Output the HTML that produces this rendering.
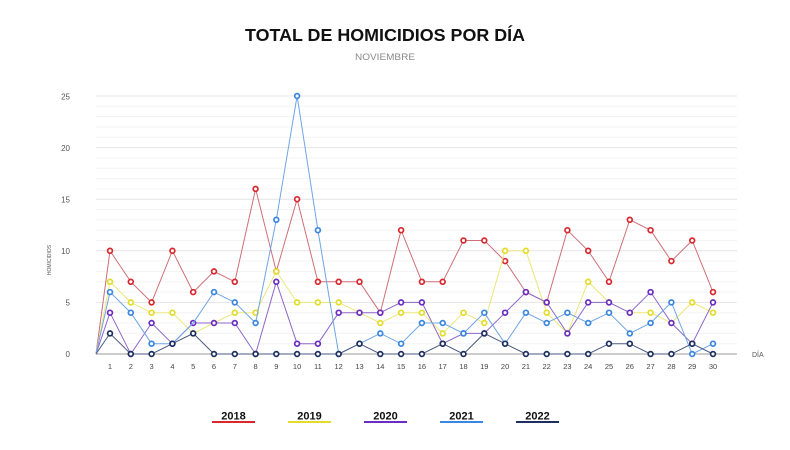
<!DOCTYPE html>
<html><head><meta charset="utf-8"><style>
html,body{margin:0;padding:0;background:#fff;}
svg{display:block;font-family:"Liberation Sans",sans-serif;}
</style></head><body>
<svg width="790" height="450" viewBox="0 0 790 450" xmlns="http://www.w3.org/2000/svg">
<defs>
<marker id="mr" markerUnits="userSpaceOnUse" markerWidth="10" markerHeight="10" refX="5" refY="5" overflow="visible"><circle cx="5" cy="5" r="2.4" fill="#fff" stroke="#d8282e" stroke-width="1.7"/></marker>
<marker id="my" markerUnits="userSpaceOnUse" markerWidth="10" markerHeight="10" refX="5" refY="5" overflow="visible"><circle cx="5" cy="5" r="2.4" fill="#fff" stroke="#e3dc2a" stroke-width="1.7"/></marker>
<marker id="mp" markerUnits="userSpaceOnUse" markerWidth="10" markerHeight="10" refX="5" refY="5" overflow="visible"><circle cx="5" cy="5" r="2.4" fill="#fff" stroke="#6a2dbf" stroke-width="1.7"/></marker>
<marker id="mb" markerUnits="userSpaceOnUse" markerWidth="10" markerHeight="10" refX="5" refY="5" overflow="visible"><circle cx="5" cy="5" r="2.4" fill="#fff" stroke="#3a86e0" stroke-width="1.7"/></marker>
<marker id="mn" markerUnits="userSpaceOnUse" markerWidth="10" markerHeight="10" refX="5" refY="5" overflow="visible"><circle cx="5" cy="5" r="2.4" fill="#fff" stroke="#1d2f5e" stroke-width="1.7"/></marker>
</defs>

<text x="385" y="41" text-anchor="middle" font-size="17.5" font-weight="bold" fill="#111" textLength="280" lengthAdjust="spacingAndGlyphs">TOTAL DE HOMICIDIOS POR DÍA</text>
<text x="385" y="60" text-anchor="middle" font-size="9" fill="#8a8a8a" textLength="60" lengthAdjust="spacingAndGlyphs">NOVIEMBRE</text>

<g stroke="#f3f3f3" stroke-width="1">
<line x1="96" x2="737" y1="343.7" y2="343.7"/><line x1="96" x2="737" y1="333.4" y2="333.4"/><line x1="96" x2="737" y1="323" y2="323"/><line x1="96" x2="737" y1="312.7" y2="312.7"/>
<line x1="96" x2="737" y1="292.1" y2="292.1"/><line x1="96" x2="737" y1="281.8" y2="281.8"/><line x1="96" x2="737" y1="271.4" y2="271.4"/><line x1="96" x2="737" y1="261.1" y2="261.1"/>
<line x1="96" x2="737" y1="240.5" y2="240.5"/><line x1="96" x2="737" y1="230.2" y2="230.2"/><line x1="96" x2="737" y1="219.8" y2="219.8"/><line x1="96" x2="737" y1="209.5" y2="209.5"/>
<line x1="96" x2="737" y1="188.9" y2="188.9"/><line x1="96" x2="737" y1="178.6" y2="178.6"/><line x1="96" x2="737" y1="168.2" y2="168.2"/><line x1="96" x2="737" y1="157.9" y2="157.9"/>
<line x1="96" x2="737" y1="137.3" y2="137.3"/><line x1="96" x2="737" y1="127" y2="127"/><line x1="96" x2="737" y1="116.6" y2="116.6"/><line x1="96" x2="737" y1="106.3" y2="106.3"/>
</g>
<g stroke="#e4e4e4" stroke-width="1">
<line x1="96" x2="737" y1="302.4" y2="302.4"/><line x1="96" x2="737" y1="250.8" y2="250.8"/><line x1="96" x2="737" y1="199.2" y2="199.2"/><line x1="96" x2="737" y1="147.6" y2="147.6"/><line x1="96" x2="737" y1="96" y2="96"/>
</g>
<line x1="96" x2="737" y1="354" y2="354" stroke="#9a9a9a" stroke-width="1"/>

<g font-size="8" fill="#555" text-anchor="end">
<text x="70" y="357">0</text><text x="70" y="305.5">5</text><text x="70" y="254">10</text><text x="70" y="202.5">15</text><text x="70" y="151">20</text><text x="70" y="99.5">25</text>
</g>
<text transform="translate(51,260) rotate(-90)" font-size="5" fill="#555" text-anchor="middle">HOMICIDIOS</text>
<text x="752" y="357" font-size="7" fill="#555">DÍA</text>

<g font-size="7.5" fill="#444" text-anchor="middle">
<text x="110" y="369">1</text><text x="130.8" y="369">2</text><text x="151.6" y="369">3</text><text x="172.4" y="369">4</text><text x="193.2" y="369">5</text><text x="214" y="369">6</text><text x="234.8" y="369">7</text><text x="255.6" y="369">8</text><text x="276.3" y="369">9</text><text x="297.1" y="369">10</text><text x="317.9" y="369">11</text><text x="338.7" y="369">12</text><text x="359.5" y="369">13</text><text x="380.3" y="369">14</text><text x="401.1" y="369">15</text><text x="421.9" y="369">16</text><text x="442.7" y="369">17</text><text x="463.5" y="369">18</text><text x="484.3" y="369">19</text><text x="505.1" y="369">20</text><text x="525.9" y="369">21</text><text x="546.7" y="369">22</text><text x="567.4" y="369">23</text><text x="588.2" y="369">24</text><text x="609" y="369">25</text><text x="629.8" y="369">26</text><text x="650.6" y="369">27</text><text x="671.4" y="369">28</text><text x="692.2" y="369">29</text><text x="713" y="369">30</text>
</g>

<!-- 2018 red -->
<polyline fill="none" stroke="#cf6f78" stroke-width="1" points="96,354 110,250.8 130.8,281.8 151.6,302.4 172.4,250.8 193.2,292.1 214,271.4 234.8,281.8 255.6,188.9 276.3,271.4 297.1,199.2 317.9,281.8 338.7,281.8 359.5,281.8 380.3,312.7 401.1,230.2 421.9,281.8 442.7,281.8 463.5,240.5 484.3,240.5 505.1,261.1 525.9,292.1 546.7,302.4 567.4,230.2 588.2,250.8 609,281.8 629.8,219.8 650.6,230.2 671.4,261.1 692.2,240.5 713,292.1"/>
<polyline fill="none" stroke="none" marker-start="url(#mr)" marker-mid="url(#mr)" marker-end="url(#mr)" points="110,250.8 130.8,281.8 151.6,302.4 172.4,250.8 193.2,292.1 214,271.4 234.8,281.8 255.6,188.9 276.3,271.4 297.1,199.2 317.9,281.8 338.7,281.8 359.5,281.8 380.3,312.7 401.1,230.2 421.9,281.8 442.7,281.8 463.5,240.5 484.3,240.5 505.1,261.1 525.9,292.1 546.7,302.4 567.4,230.2 588.2,250.8 609,281.8 629.8,219.8 650.6,230.2 671.4,261.1 692.2,240.5 713,292.1"/>

<!-- 2019 yellow -->
<polyline fill="none" stroke="#ece77a" stroke-width="1" points="96,354 110,281.8 130.8,302.4 151.6,312.7 172.4,312.7 193.2,333.4 214,323 234.8,312.7 255.6,312.7 276.3,271.4 297.1,302.4 317.9,302.4 338.7,302.4 359.5,312.7 380.3,323 401.1,312.7 421.9,312.7 442.7,333.4 463.5,312.7 484.3,323 505.1,250.8 525.9,250.8 546.7,312.7 567.4,333.4 588.2,281.8 609,302.4 629.8,312.7 650.6,312.7 671.4,323 692.2,302.4 713,312.7"/>
<polyline fill="none" stroke="none" marker-start="url(#my)" marker-mid="url(#my)" marker-end="url(#my)" points="110,281.8 130.8,302.4 151.6,312.7 172.4,312.7 193.2,333.4 214,323 234.8,312.7 255.6,312.7 276.3,271.4 297.1,302.4 317.9,302.4 338.7,302.4 359.5,312.7 380.3,323 401.1,312.7 421.9,312.7 442.7,333.4 463.5,312.7 484.3,323 505.1,250.8 525.9,250.8 546.7,312.7 567.4,333.4 588.2,281.8 609,302.4 629.8,312.7 650.6,312.7 671.4,323 692.2,302.4 713,312.7"/>

<!-- 2020 purple -->
<polyline fill="none" stroke="#8e67c9" stroke-width="1" points="96,354 110,312.7 130.8,354 151.6,323 172.4,343.7 193.2,323 214,323 234.8,323 255.6,354 276.3,281.8 297.1,343.7 317.9,343.7 338.7,312.7 359.5,312.7 380.3,312.7 401.1,302.4 421.9,302.4 442.7,343.7 463.5,333.4 484.3,333.4 505.1,312.7 525.9,292.1 546.7,302.4 567.4,333.4 588.2,302.4 609,302.4 629.8,312.7 650.6,292.1 671.4,323 692.2,343.7 713,302.4"/>
<polyline fill="none" stroke="none" marker-start="url(#mp)" marker-mid="url(#mp)" marker-end="url(#mp)" points="110,312.7 130.8,354 151.6,323 172.4,343.7 193.2,323 214,323 234.8,323 255.6,354 276.3,281.8 297.1,343.7 317.9,343.7 338.7,312.7 359.5,312.7 380.3,312.7 401.1,302.4 421.9,302.4 442.7,343.7 463.5,333.4 484.3,333.4 505.1,312.7 525.9,292.1 546.7,302.4 567.4,333.4 588.2,302.4 609,302.4 629.8,312.7 650.6,292.1 671.4,323 692.2,343.7 713,302.4"/>

<!-- 2021 blue -->
<polyline fill="none" stroke="#6fa5e6" stroke-width="1" points="96,354 110,292.1 130.8,312.7 151.6,343.7 172.4,343.7 193.2,323 214,292.1 234.8,302.4 255.6,323 276.3,219.8 297.1,96 317.9,230.2 338.7,354 359.5,343.7 380.3,333.4 401.1,343.7 421.9,323 442.7,323 463.5,333.4 484.3,312.7 505.1,343.7 525.9,312.7 546.7,323 567.4,312.7 588.2,323 609,312.7 629.8,333.4 650.6,323 671.4,302.4 692.2,354 713,343.7"/>
<polyline fill="none" stroke="none" marker-start="url(#mb)" marker-mid="url(#mb)" marker-end="url(#mb)" points="110,292.1 130.8,312.7 151.6,343.7 172.4,343.7 214,292.1 234.8,302.4 255.6,323 276.3,219.8 297.1,96 317.9,230.2 338.7,354 359.5,343.7 380.3,333.4 401.1,343.7 421.9,323 442.7,323 463.5,333.4 484.3,312.7 505.1,343.7 525.9,312.7 546.7,323 567.4,312.7 588.2,323 609,312.7 629.8,333.4 650.6,323 671.4,302.4 692.2,354 713,343.7"/>

<!-- 2022 navy -->
<polyline fill="none" stroke="#4a5a80" stroke-width="1" points="96,354 110,333.4 130.8,354 151.6,354 172.4,343.7 193.2,333.4 214,354 234.8,354 255.6,354 276.3,354 297.1,354 317.9,354 338.7,354 359.5,343.7 380.3,354 401.1,354 421.9,354 442.7,343.7 463.5,354 484.3,333.4 505.1,343.7 525.9,354 546.7,354 567.4,354 588.2,354 609,343.7 629.8,343.7 650.6,354 671.4,354 692.2,343.7 713,354"/>
<polyline fill="none" stroke="none" marker-start="url(#mn)" marker-mid="url(#mn)" marker-end="url(#mn)" points="110,333.4 130.8,354 151.6,354 172.4,343.7 193.2,333.4 214,354 234.8,354 255.6,354 276.3,354 297.1,354 317.9,354 338.7,354 359.5,343.7 380.3,354 401.1,354 421.9,354 442.7,343.7 463.5,354 484.3,333.4 505.1,343.7 525.9,354 546.7,354 567.4,354 588.2,354 609,343.7 629.8,343.7 650.6,354 671.4,354 692.2,343.7 713,354"/>

<!-- legend -->
<g font-size="11" font-weight="bold" fill="#111" text-anchor="middle">
<text x="233.5" y="419.5">2018</text>
<text x="309.5" y="419.5">2019</text>
<text x="385.5" y="419.5">2020</text>
<text x="461.5" y="419.5">2021</text>
<text x="537.5" y="419.5">2022</text>
</g>
<g stroke-width="2">
<line x1="212" x2="255" y1="422" y2="422" stroke="#d8282e"/>
<line x1="288" x2="331" y1="422" y2="422" stroke="#e3dc2a"/>
<line x1="364" x2="407" y1="422" y2="422" stroke="#6a2dbf"/>
<line x1="440" x2="483" y1="422" y2="422" stroke="#3a86e0"/>
<line x1="516" x2="559" y1="422" y2="422" stroke="#1d2f5e"/>
</g>
</svg>
</body></html>
